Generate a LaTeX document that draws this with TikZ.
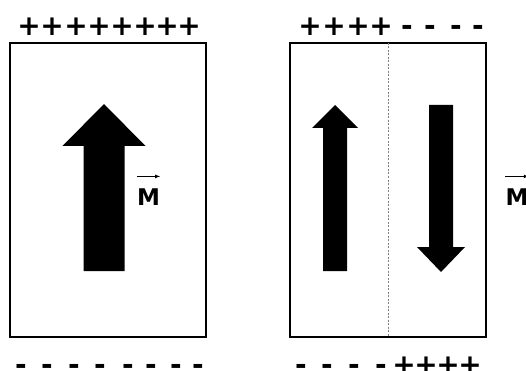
\documentclass[tikz,border=0pt]{standalone}
\usepackage{fontspec}
\setmainfont{DejaVu Sans}
\usetikzlibrary{arrows,positioning}

\begin{document}
\begin{tikzpicture}[x=1pt,y=-1pt,
        sign/.style={font=\fontsize{28}{28}\selectfont\bfseries,inner sep=0,anchor=base},
        mag/.style={font=\fontsize{23}{23}\selectfont\bfseries,inner sep=0},
        slab/.style={draw,line width=1.1pt,inner sep=0,outer sep=0,minimum width=196pt,minimum height=294pt},
        wall/.style={draw=gray,line width=0.6pt,dash pattern=on 2pt off 1.5pt},
        bigarrow/.style={fill=black}]
    \useasboundingbox (0,0) rectangle (526,371);
    % the two slabs
    \node[slab] (slab_1) at (108,190) {};
    \node[slab] (slab_2) at (388,190) {};
    \draw[wall] (slab_2.north) -- (slab_2.south);
    % surface charges
    \foreach \x [count=\i] in {29,52,76,99,122,145,167,189}
        \node[sign] (top_1\i) at (\x,36) {+};
    \foreach \x [count=\i] in {21,47,74,100,128,151,176,198}
        \node[sign] (bot_1\i) at (\x,374) {-};
    \foreach \x [count=\i] in {310,334,358,381}
        \node[sign] (top_2\i) at (\x,36) {+};
    \foreach \x [count=\i] in {407,430,456,478}
        \node[sign] (top_3\i) at (\x,36) {-};
    \foreach \x [count=\i] in {301,327,354,381}
        \node[sign] (bot_2\i) at (\x,374) {-};
    \foreach \x [count=\i] in {404,426,448,470}
        \node[sign] (bot_3\i) at (\x,374) {+};
    % magnetisation
    \fill[bigarrow] (83.5,271) -- (83.5,146) -- (62.5,146) -- (104,104)
        -- (145.5,146) -- (124.5,146) -- (124.5,271) -- cycle;
    \fill[bigarrow] (323,271) -- (323,128) -- (312,128) -- (335,105)
        -- (358,128) -- (347,128) -- (347,271) -- cycle;
    \fill[bigarrow] (429,105) -- (429,247) -- (417,247) -- (441,272)
        -- (465,247) -- (453,247) -- (453,105) -- cycle;
    \node[mag] (M_1) at (148.5,197) {M};
    \node[mag] (M_2) at (517,197) {M};
    \draw[-latex,line width=0.7pt] ([yshift=12pt]M_1.north west) -- ([yshift=12pt]M_1.north east);
    \draw[-latex,line width=0.7pt] ([yshift=12pt]M_2.north west) -- ([yshift=12pt]M_2.north east);
\end{tikzpicture}
\end{document}
